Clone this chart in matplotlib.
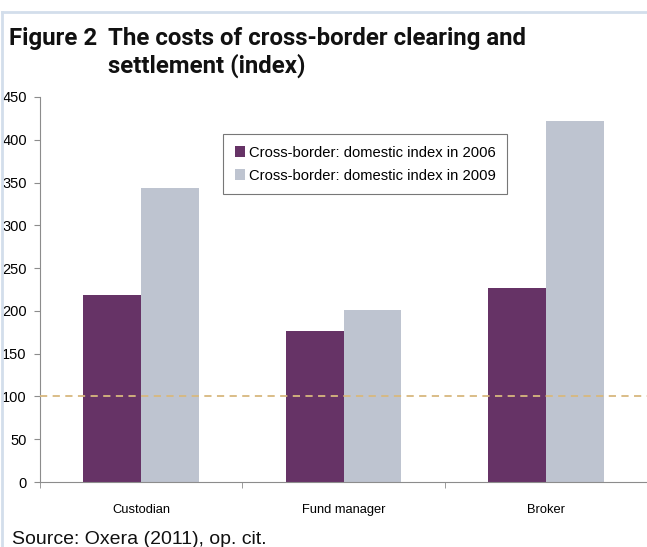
import numpy as np
import matplotlib as mpl
import matplotlib.pyplot as plt
from matplotlib.lines import Line2D

mpl.rcParams.update({
    "font.family": ["Liberation Sans", "DejaVu Sans"],
    "axes.linewidth": 0.8,
})

# ---------------------------------------------------------------- data
categories = ["Custodian", "Fund manager", "Broker"]
idx_2006 = [219, 176, 227]
idx_2009 = [344, 201, 422]
series_labels = ["Cross-border: domestic index in 2006",
                 "Cross-border: domestic index in 2009"]
parity_level = 100
yticks = [0, 50, 100, 150, 200, 250, 300, 350, 400, 450]

C_2006 = "#663366"
C_2009 = "#BEC4D0"
C_DASH = "#D8B87E"
C_AXIS = "#8C8C8C"
C_FRAME = "#D3DEEB"

# ---------------------------------------------------------------- figure
fig = plt.figure(figsize=(6.47, 5.47), dpi=100)
ax = fig.add_axes([40 / 647, 1 - 482 / 547, 1 - 40 / 647, (482 - 97) / 547])

x = np.arange(len(categories))
w = 0.286
ax.bar(x - w / 2, idx_2006, width=w, color=C_2006, zorder=2,
       label=series_labels[0])
ax.bar(x + w / 2, idx_2009, width=w, color=C_2009, zorder=2,
       label=series_labels[1])

ax.axhline(parity_level, color=C_DASH, lw=1.3, ls=(0, (4, 3)), zorder=3)

ax.set_xlim(-0.5, len(categories) - 0.5)
ax.set_ylim(0, 450)
ax.set_yticks(yticks)
ax.set_xticks(x)
ax.set_xticklabels(categories, fontsize=9.3)
ax.set_xticks(np.arange(-0.5, len(categories) - 0.4, 1.0), minor=True)
ax.tick_params(axis="x", which="major", length=0, pad=16)
ax.tick_params(axis="x", which="minor", length=4, color=C_AXIS)
ax.tick_params(axis="y", length=4, color=C_AXIS, labelsize=10.5, pad=5.5)

for s in ("top", "right"):
    ax.spines[s].set_visible(False)
for s in ("left", "bottom"):
    ax.spines[s].set_color(C_AXIS)

leg = ax.legend(loc="upper left", bbox_to_anchor=(0.3015, 0.904),
                fontsize=10.6, frameon=True, fancybox=False,
                edgecolor="#555555", handlelength=0.7, handleheight=0.7,
                handletextpad=0.25, borderpad=0.8, labelspacing=0.6,
                borderaxespad=0)
leg.get_frame().set_linewidth(0.8)

# ---------------------------------------------------------------- frame + titles
fig.add_artist(Line2D([1.5 / 647, 1.0], [1 - 12 / 547] * 2,
                      transform=fig.transFigure, color=C_FRAME, lw=2))
fig.add_artist(Line2D([1.5 / 647] * 2, [0, 1 - 12 / 547],
                      transform=fig.transFigure, color=C_FRAME, lw=2))

title_font = dict(fontsize=17.3, fontweight="bold", color="#111111",
                  family=["Roboto", "DejaVu Sans"],
                  va="baseline", ha="left")
fig.text(9 / 647, 1 - 45 / 547, "Figure 2", **title_font)
fig.text(108 / 647, 1 - 45 / 547, "The costs of cross-border clearing and",
         **title_font)
fig.text(108 / 647, 1 - 73 / 547, "settlement (index)", **title_font)

fig.text(12 / 647, 1 - 539 / 547, "Source: Oxera (2011), op. cit.",
         fontsize=14, va="center", ha="left", color="#111111")

fig.savefig("out.png", dpi=100)
plt.close(fig)
